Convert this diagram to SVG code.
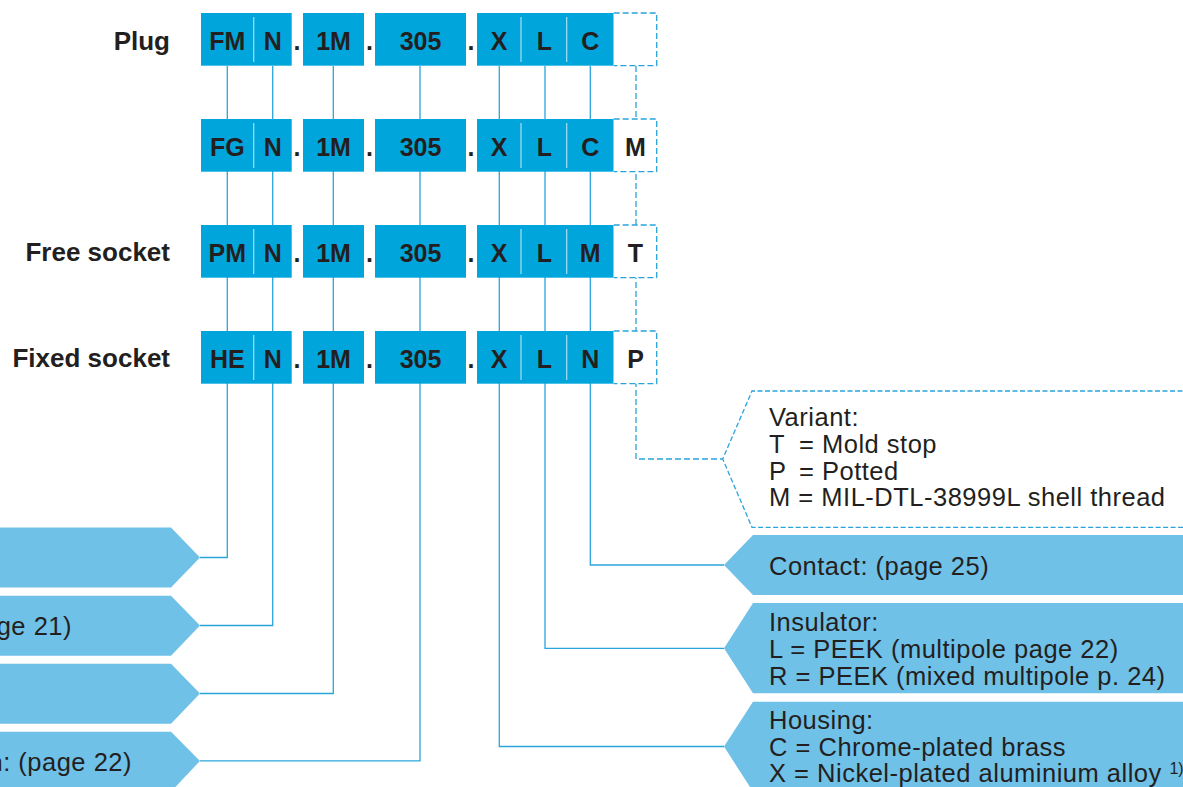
<svg xmlns="http://www.w3.org/2000/svg" width="1183" height="787" viewBox="0 0 1183 787">
<style>
.box{fill:#00a5dc}
.dbox{fill:#fff;stroke:#2aa3db;stroke-width:1.3;stroke-dasharray:6 3}
.div{stroke:#a9def4;stroke-width:1.2}
.bt{font-family:"Liberation Sans",Arial,sans-serif;font-weight:bold;font-size:25px;fill:#231f20;text-anchor:middle}
.lbl{font-family:"Liberation Sans",Arial,sans-serif;font-weight:bold;font-size:26px;fill:#231f20;text-anchor:end}
.ln{fill:none;stroke:#2aa5dc;stroke-width:1.3}
.dln{fill:none;stroke:#2aa3db;stroke-width:1.3;stroke-dasharray:6 3}
.ptr{fill:#70c1e8}
.vptr{fill:#fff;stroke:#2aa3db;stroke-width:1.3;stroke-dasharray:5 2.5}
.tx{font-family:"Liberation Sans",Arial,sans-serif;font-size:25.5px;letter-spacing:0.5px;fill:#231f20}
</style>
<defs>
<g id="row">
<rect class="box" x="201" y="0" width="90.7" height="52.7"/>
<line class="div" x1="253.7" y1="4" x2="253.7" y2="49"/>
<rect class="box" x="303" y="0" width="61" height="52.7"/>
<rect class="box" x="375" y="0" width="91" height="52.7"/>
<rect class="box" x="477" y="0" width="136.7" height="52.7"/>
<line class="div" x1="521" y1="4" x2="521" y2="49"/>
<line class="div" x1="566.7" y1="4" x2="566.7" y2="49"/>
<path class="dbox" d="M613.7,0 H656.7 V52.7 H613.7"/>
<text class="bt" x="297" y="36.5">.</text>
<text class="bt" x="369.5" y="36.5">.</text>
<text class="bt" x="471" y="36.5">.</text>
<text class="bt" x="272.7" y="36.5">N</text>
<text class="bt" x="333.5" y="36.5">1M</text>
<text class="bt" x="420.5" y="36.5">305</text>
<text class="bt" x="499" y="36.5">X</text>
<text class="bt" x="544.5" y="36.5">L</text>
</g>
</defs>

<g id="connectors">
<path class="ln" d="M227.3,66 V557.5 H200"/>
<path class="ln" d="M272.7,66 V625.5 H200"/>
<path class="ln" d="M333.3,66 V693.5 H200"/>
<path class="ln" d="M420,66 V760.9 H200"/>
<path class="ln" d="M499.3,66 V746.5 H724"/>
<path class="ln" d="M545,66 V648.3 H724"/>
<path class="ln" d="M590.3,66 V565 H724"/>
<path class="dln" d="M636,66 V459 H722.7"/>
</g>

<g id="row-plug">
<text class="lbl" x="170" y="50">Plug</text>
<use href="#row" x="0" y="13"/>
<text class="bt" x="227.3" y="49.5">FM</text>
<text class="bt" x="590.2" y="49.5">C</text>
</g>
<g id="row-fg">
<use href="#row" x="0" y="119"/>
<text class="bt" x="227.3" y="155.5">FG</text>
<text class="bt" x="590.2" y="155.5">C</text>
<text class="bt" x="635.5" y="155.5">M</text>
</g>
<g id="row-free-socket">
<text class="lbl" x="170" y="261">Free socket</text>
<use href="#row" x="0" y="225"/>
<text class="bt" x="227.3" y="261.5">PM</text>
<text class="bt" x="590.2" y="261.5">M</text>
<text class="bt" x="635.5" y="261.5">T</text>
</g>
<g id="row-fixed-socket">
<text class="lbl" x="170" y="367">Fixed socket</text>
<use href="#row" x="0" y="331"/>
<text class="bt" x="227.3" y="367.5">HE</text>
<text class="bt" x="590.2" y="367.5">N</text>
<text class="bt" x="635.5" y="367.5">P</text>
</g>

<g id="left-pointer-1">
<polygon class="ptr" points="-5,527.5 171,527.5 200,557.5 171,587.5 -5,587.5"/>
</g>
<g id="left-pointer-2">
<polygon class="ptr" points="-5,595.7 171,595.7 200,625.5 171,655.7 -5,655.7"/>
<text class="tx" x="72" y="635" text-anchor="end">ge 21)</text>
</g>
<g id="left-pointer-3">
<polygon class="ptr" points="-5,663.7 171,663.7 200,693.5 171,723.7 -5,723.7"/>
</g>
<g id="left-pointer-4">
<polygon class="ptr" points="-5,731.7 171,731.7 200,760.9 171,791.7 -5,791.7"/>
<text class="tx" x="132" y="770.7" text-anchor="end">n: (page 22)</text>
</g>

<g id="variant">
<polygon class="vptr" points="1190,391 752,391 722.7,459 752,527.3 1190,527.3"/>
<text class="tx" x="769" y="426">Variant:</text>
<text class="tx" y="453"><tspan x="769">T</tspan><tspan x="799">= Mold stop</tspan></text>
<text class="tx" y="480"><tspan x="769">P</tspan><tspan x="799">= Potted</tspan></text>
<text class="tx" x="769" y="506">M = MIL-DTL-38999L shell thread</text>
</g>
<g id="contact">
<polygon class="ptr" points="1190,535 753,535 724,565 753,595 1190,595"/>
<text class="tx" x="769" y="575">Contact: (page 25)</text>
</g>
<g id="insulator">
<polygon class="ptr" points="1190,603 753,603 724,648.3 753,693.3 1190,693.3"/>
<text class="tx" x="769" y="631">Insulator:</text>
<text class="tx" x="769" y="658">L = PEEK (multipole page 22)</text>
<text class="tx" x="769" y="685">R = PEEK (mixed multipole p. 24)</text>
</g>
<g id="housing">
<polygon class="ptr" points="1190,701.7 753,701.7 724,746.5 753,791.7 1190,791.7"/>
<text class="tx" x="769" y="729">Housing:</text>
<text class="tx" x="769" y="755.5">C = Chrome-plated brass</text>
<text class="tx" x="769" y="782" letter-spacing="0.1">X = Nickel-plated aluminium alloy <tspan font-size="16" dy="-8" letter-spacing="0">1)</tspan></text>
</g>
</svg>
